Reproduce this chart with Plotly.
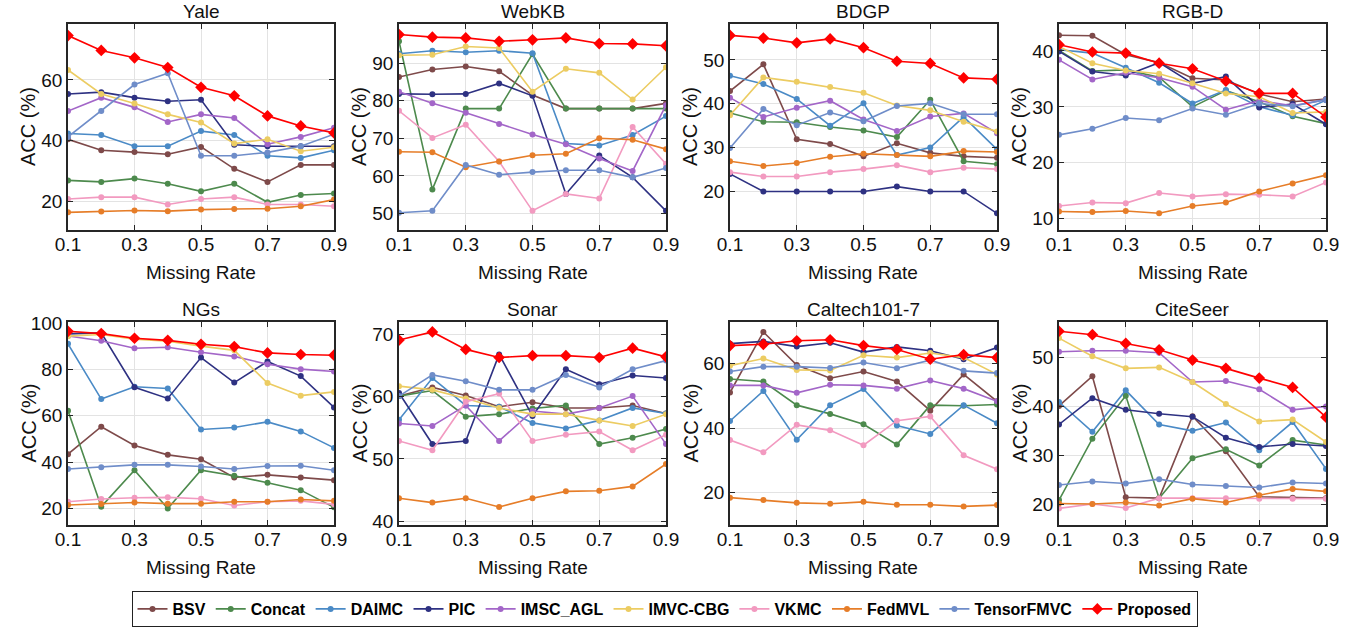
import plotly.graph_objects as go

missing_rate = [0.1, 0.2, 0.3, 0.4, 0.5, 0.6, 0.7, 0.8, 0.9]
x_tick_vals = [0.1, 0.3, 0.5, 0.7, 0.9]
x_tick_text = ["0.1", "0.3", "0.5", "0.7", "0.9"]

methods = ["BSV", "Concat", "DAIMC", "PIC", "IMSC_AGL", "IMVC-CBG", "VKMC", "FedMVL", "TensorFMVC", "Proposed"]
method_colors = ["#7E4A4A", "#4D8A4D", "#4A8AC6", "#2E3182", "#A366C8", "#ECCC62", "#F29AC0", "#E67D28", "#6F8DC9", "#FF0000"]

dataset_names = ["Yale", "WebKB", "BDGP", "RGB-D", "NGs", "Sonar", "Caltech101-7", "CiteSeer"]

yale = {
    "BSV": [40.5, 36.9, 36.3, 35.6, 38.0, 30.8, 26.5, 32.1, 32.1],
    "Concat": [27.0, 26.5, 27.6, 25.9, 23.4, 25.9, 19.8, 22.2, 22.7],
    "DAIMC": [42.4, 41.9, 38.2, 38.2, 43.2, 41.9, 35.1, 34.4, 36.9],
    "PIC": [55.4, 56.0, 54.2, 53.0, 53.5, 38.7, 38.2, 38.2, 38.2],
    "IMSC_AGL": [49.8, 54.2, 51.0, 46.2, 48.7, 47.5, 38.9, 41.3, 44.3],
    "IMVC-CBG": [63.3, 55.4, 52.3, 48.7, 46.0, 39.1, 40.5, 36.6, 37.9],
    "VKMC": [20.9, 21.5, 21.5, 19.1, 20.9, 21.5, 19.1, 19.1, 18.5],
    "FedMVL": [16.5, 16.8, 17.1, 16.9, 17.4, 17.6, 17.7, 18.5, 20.7],
    "TensorFMVC": [41.3, 49.8, 58.5, 62.2, 35.1, 35.1, 36.2, 38.2, 42.2],
    "Proposed": [74.6, 69.7, 67.3, 64.1, 57.6, 54.8, 48.2, 44.9, 42.6],
}
webkb = {
    "BSV": [86.3, 88.3, 89.1, 87.8, 81.5, 77.9, 77.9, 77.9, 79.3],
    "Concat": [95.8, 56.4, 77.9, 77.9, 92.4, 77.9, 77.9, 77.9, 77.9],
    "DAIMC": [92.5, 93.3, 92.9, 93.3, 92.6, 68.6, 68.1, 70.9, 75.9],
    "PIC": [81.8, 81.7, 81.8, 84.6, 81.3, 55.2, 65.4, 59.6, 50.7],
    "IMSC_AGL": [82.4, 79.3, 76.8, 73.8, 71.0, 68.4, 64.6, 61.3, 78.8],
    "IMVC-CBG": [92.1, 92.2, 94.4, 94.0, 82.4, 88.5, 87.4, 80.3, 88.9],
    "VKMC": [77.3, 70.1, 73.6, 63.8, 50.7, 55.2, 54.0, 73.0, 63.2],
    "FedMVL": [66.4, 66.3, 62.3, 63.8, 65.5, 65.9, 70.0, 69.6, 67.1],
    "TensorFMVC": [50.2, 50.7, 62.9, 60.3, 61.0, 61.5, 61.5, 59.6, 62.1],
    "Proposed": [97.6, 96.9, 96.7, 95.8, 96.2, 96.7, 95.2, 95.1, 94.6],
}
bdgp = {
    "BSV": [42.9, 49.0, 31.9, 30.8, 28.0, 31.0, 28.8, 28.0, 27.7],
    "Concat": [37.9, 35.9, 35.8, 34.7, 33.9, 32.4, 40.9, 26.9, 26.2],
    "DAIMC": [46.4, 44.5, 41.1, 35.0, 40.1, 28.3, 30.0, 37.0, 29.6],
    "PIC": [24.0, 20.0, 20.0, 20.0, 20.0, 21.1, 20.0, 20.0, 15.0],
    "IMSC_AGL": [41.4, 37.0, 39.1, 40.7, 36.4, 33.8, 37.1, 37.8, 33.3],
    "IMVC-CBG": [37.4, 46.0, 45.0, 43.8, 42.5, 39.6, 38.5, 35.9, 33.7],
    "VKMC": [24.4, 23.4, 23.4, 24.4, 25.1, 26.0, 24.4, 25.4, 25.1],
    "FedMVL": [26.9, 25.8, 26.5, 27.9, 28.6, 28.3, 28.0, 29.2, 29.0],
    "TensorFMVC": [29.9, 38.8, 35.1, 38.0, 36.0, 39.5, 40.1, 37.6, 37.6],
    "Proposed": [55.6, 55.0, 53.9, 54.8, 52.8, 49.7, 49.2, 45.9, 45.6],
}
rgbd = {
    "BSV": [42.8, 42.7, 39.3, 37.9, 35.1, 34.8, 32.3, 30.9, 31.4],
    "Concat": [40.1, 36.4, 36.6, 35.3, 30.0, 32.9, 30.9, 28.3, 27.0],
    "DAIMC": [40.2, 39.6, 37.0, 34.3, 30.6, 33.0, 30.0, 28.5, 31.2],
    "PIC": [39.9, 36.3, 35.6, 37.9, 34.2, 35.4, 29.9, 30.5, 26.9],
    "IMSC_AGL": [38.4, 34.9, 36.1, 35.2, 33.6, 29.5, 31.1, 30.2, 31.3],
    "IMVC-CBG": [40.8, 37.8, 36.5, 35.9, 34.2, 32.4, 31.8, 28.9, 29.1],
    "VKMC": [12.3, 12.9, 12.8, 14.6, 14.0, 14.4, 14.3, 14.0, 16.5],
    "FedMVL": [11.3, 11.2, 11.4, 11.0, 12.3, 12.9, 14.9, 16.3, 17.8],
    "TensorFMVC": [25.0, 26.1, 28.0, 27.6, 29.7, 28.6, 30.6, 30.1, 31.3],
    "Proposed": [41.1, 39.8, 39.6, 37.8, 36.8, 34.6, 32.4, 32.4, 28.2],
}
ngs = {
    "BSV": [43.5, 55.3, 47.2, 43.2, 41.3, 33.5, 34.6, 33.5, 32.3],
    "Concat": [62.2, 20.9, 36.6, 20.1, 36.6, 34.2, 31.2, 28.0, 20.6],
    "DAIMC": [91.0, 67.2, 72.5, 71.8, 54.1, 55.0, 57.4, 53.3, 46.2],
    "PIC": [95.3, 95.7, 72.3, 67.5, 85.1, 74.3, 83.4, 77.1, 63.6],
    "IMSC_AGL": [94.4, 92.3, 89.1, 89.5, 87.4, 85.6, 82.2, 80.1, 79.1],
    "IMVC-CBG": [94.3, 95.0, 93.0, 92.1, 90.0, 88.2, 74.1, 68.7, 70.3],
    "VKMC": [23.0, 24.2, 24.7, 24.9, 24.3, 21.4, 23.0, 23.4, 21.9],
    "FedMVL": [21.6, 22.0, 22.7, 22.2, 22.2, 23.0, 23.0, 24.0, 23.4],
    "TensorFMVC": [37.1, 37.9, 38.9, 38.9, 38.2, 37.1, 38.4, 38.5, 36.6],
    "Proposed": [96.4, 95.4, 93.4, 92.5, 90.8, 89.8, 87.1, 86.4, 86.1],
}
sonar = {
    "BSV": [60.1, 61.5, 60.2, 58.4, 59.1, 58.2, 58.2, 58.6, 57.3],
    "Concat": [60.1, 61.0, 56.8, 57.2, 58.1, 58.6, 52.4, 53.4, 54.8],
    "DAIMC": [56.3, 63.0, 58.6, 58.4, 55.8, 54.9, 56.2, 58.2, 57.3],
    "PIC": [60.6, 52.4, 52.9, 66.8, 56.9, 64.4, 62.0, 63.4, 63.0],
    "IMSC_AGL": [55.7, 55.3, 58.6, 52.9, 57.7, 57.2, 58.2, 60.1, 52.4],
    "IMVC-CBG": [61.7, 61.1, 59.7, 58.2, 57.2, 57.2, 56.2, 55.3, 57.2],
    "VKMC": [52.9, 51.4, 59.2, 60.5, 52.9, 53.9, 54.4, 51.4, 53.9],
    "FedMVL": [43.7, 43.0, 43.7, 42.3, 43.7, 44.8, 44.9, 45.6, 49.2],
    "TensorFMVC": [60.1, 63.5, 62.5, 61.1, 61.1, 63.5, 61.5, 64.4, 65.8],
    "Proposed": [69.1, 70.4, 67.6, 66.3, 66.6, 66.6, 66.3, 67.8, 66.4],
}
caltech = {
    "BSV": [51.0, 69.7, 59.5, 55.4, 57.5, 54.4, 45.4, 56.6, 48.3],
    "Concat": [55.2, 54.4, 47.1, 44.4, 41.2, 34.9, 47.1, 46.9, 47.3],
    "DAIMC": [42.2, 51.5, 36.4, 47.1, 52.1, 40.8, 38.2, 47.1, 41.5],
    "PIC": [66.1, 66.8, 65.2, 66.4, 63.5, 65.1, 63.9, 61.3, 64.9],
    "IMSC_AGL": [53.2, 53.2, 50.9, 53.4, 53.2, 52.2, 54.7, 52.2, 48.3],
    "IMVC-CBG": [59.3, 61.5, 58.0, 57.8, 62.5, 61.8, 63.2, 61.8, 56.6],
    "VKMC": [36.3, 32.5, 41.0, 39.3, 34.7, 42.3, 43.6, 31.6, 27.3],
    "FedMVL": [18.5, 17.8, 16.9, 16.6, 17.2, 16.3, 16.3, 15.8, 16.2],
    "TensorFMVC": [57.5, 59.0, 59.0, 58.6, 60.3, 58.5, 61.0, 57.7, 57.0],
    "Proposed": [65.5, 65.9, 67.0, 67.3, 65.5, 64.3, 61.3, 62.7, 61.8],
}
citeseer = {
    "BSV": [40.1, 46.2, 21.4, 21.2, 38.0, 30.8, 21.5, 21.3, 21.2],
    "Concat": [20.8, 33.4, 42.2, 21.2, 29.4, 31.2, 27.9, 33.1, 32.1],
    "DAIMC": [40.9, 34.8, 43.3, 36.3, 35.0, 36.7, 31.0, 36.8, 27.2],
    "PIC": [36.3, 41.7, 39.3, 38.5, 37.9, 33.6, 31.7, 32.3, 31.9],
    "IMSC_AGL": [51.2, 51.4, 51.4, 51.0, 45.0, 45.2, 43.5, 39.3, 40.0],
    "IMVC-CBG": [54.0, 50.3, 47.8, 48.0, 45.0, 40.5, 36.9, 37.3, 32.7],
    "VKMC": [19.1, 20.0, 19.2, 21.2, 21.2, 21.2, 21.1, 21.1, 21.1],
    "FedMVL": [20.1, 20.0, 20.3, 19.7, 21.1, 20.3, 21.8, 23.1, 22.6],
    "TensorFMVC": [23.9, 24.6, 24.2, 25.1, 24.0, 23.7, 23.4, 24.4, 24.2],
    "Proposed": [55.4, 54.7, 52.9, 51.6, 49.5, 47.8, 45.8, 43.9, 37.8],
}
datasets = [yale, webkb, bdgp, rgbd, ngs, sonar, caltech, citeseer]

y_ranges = [[10.7, 78.4], [45.6, 100.4], [11.2, 58.2], [8.0, 44.8],
            [13.0, 100.4], [39.4, 72.0], [10.05, 72.8], [15.7, 57.3]]
y_ticks = [[20, 40, 60], [50, 60, 70, 80, 90], [20, 30, 40, 50], [10, 20, 30, 40],
           [20, 40, 60, 80, 100], [40, 50, 60, 70], [20, 40, 60], [20, 30, 40, 50]]

W, H = 1354, 627
col_px = [(68, 334), (399, 666), (730, 997), (1059, 1326)]
row_px = [(24, 230), (322, 525)]


def px_x(p):
    return p / W


def px_y(p):
    return 1 - p / H


FONT = "Liberation Sans, Arial, Helvetica, sans-serif"
AXIS_COLOR = "#262626"
GRID_COLOR = "#E3E3E3"
TEXT_COLOR = "#111111"

fig = go.Figure()
annotations = []

for i, (name, data) in enumerate(zip(dataset_names, datasets)):
    r, c = divmod(i, 4)
    ax = "" if i == 0 else str(i + 1)
    x0, x1 = col_px[c]
    yt, yb = row_px[r]
    xdom = [px_x(x0), px_x(x1)]
    ydom = [px_y(yb), px_y(yt)]

    for m, col in zip(methods, method_colors):
        is_prop = m == "Proposed"
        fig.add_trace(go.Scatter(
            x=missing_rate, y=data[m], mode="lines+markers", name=m,
            legendgroup=m, showlegend=(i == 0),
            line=dict(color=col, width=1.6),
            marker=dict(symbol="diamond" if is_prop else "circle",
                        size=9 if is_prop else 6, color=col,
                        line=dict(width=0)),
            xaxis="x" + ax, yaxis="y" + ax,
        ))

    fig.layout["xaxis" + ax] = dict(
        domain=xdom, anchor="y" + ax, range=[0.1, 0.9],
        tickvals=x_tick_vals, ticktext=x_tick_text,
        ticks="inside", ticklen=5, tickcolor=AXIS_COLOR, tickwidth=1,
        ticklabelstandoff=-4,
        showline=True, linecolor=AXIS_COLOR, linewidth=1.5, mirror="ticks",
        showgrid=True, gridcolor=GRID_COLOR, gridwidth=1, zeroline=False,
        tickfont=dict(family=FONT, size=19, color=TEXT_COLOR),
    )
    fig.layout["yaxis" + ax] = dict(
        domain=ydom, anchor="x" + ax, range=y_ranges[i],
        tickvals=y_ticks[i],
        ticks="inside", ticklen=5, tickcolor=AXIS_COLOR, tickwidth=1,
        showline=True, linecolor=AXIS_COLOR, linewidth=1.5, mirror="ticks",
        showgrid=True, gridcolor=GRID_COLOR, gridwidth=1, zeroline=False,
        tickfont=dict(family=FONT, size=19, color=TEXT_COLOR),
    )
    # subplot title
    annotations.append(dict(
        text=name, x=(xdom[0] + xdom[1]) / 2, y=ydom[1], xref="paper", yref="paper",
        xanchor="center", yanchor="bottom", yshift=0, showarrow=False,
        font=dict(family=FONT, size=19, color=TEXT_COLOR),
    ))
    # x-axis title
    annotations.append(dict(
        text="Missing Rate", x=(xdom[0] + xdom[1]) / 2, y=ydom[0], xref="paper", yref="paper",
        xanchor="center", yanchor="middle", yshift=-42, showarrow=False,
        font=dict(family=FONT, size=19, color=TEXT_COLOR),
    ))
    # y-axis title
    annotations.append(dict(
        text="ACC (%)", x=xdom[0], y=(ydom[0] + ydom[1]) / 2, xref="paper", yref="paper",
        xanchor="center", yanchor="middle", xshift=-40, textangle=-90, showarrow=False,
        font=dict(family=FONT, size=20, color=TEXT_COLOR),
    ))

fig.update_layout(
    width=W, height=H,
    margin=dict(l=0, r=0, t=0, b=0, autoexpand=False),
    paper_bgcolor="white", plot_bgcolor="white",
    annotations=annotations,
    showlegend=True,
    legend=dict(
        orientation="h", x=px_x(664.5), y=px_y(609), xanchor="center", yanchor="middle",
        font=dict(family=FONT, size=16, color="#000000", weight="bold"),
        bordercolor="#222222", borderwidth=1, bgcolor="white",
        itemwidth=30, tracegroupgap=0, traceorder="normal",
    ),
)

# remove the browser's default 8px page margin so the figure fills the window
fig.write_html("out.html", config={"displayModeBar": False},
               post_script="document.body.style.margin='0px';")
